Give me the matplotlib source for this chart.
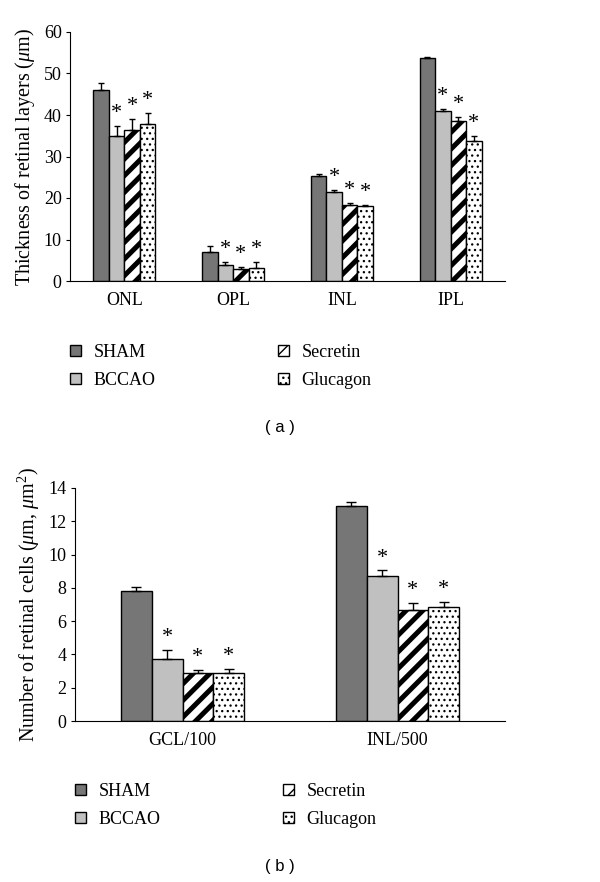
import matplotlib
matplotlib.use("Agg")
import matplotlib.pyplot as plt
import numpy as np

plt.rcParams['font.family'] = ['Liberation Serif', 'DejaVu Serif']
plt.rcParams['mathtext.fontset'] = 'custom'
plt.rcParams['mathtext.rm'] = 'Liberation Serif'
plt.rcParams['mathtext.it'] = 'Liberation Serif:italic'

# Data
groups = ['SHAM', 'BCCAO', 'Secretin', 'Glucagon']

# (a) thickness of retinal layers
layers = ['ONL', 'OPL', 'INL', 'IPL']
sham_a = [46.0, 7.1, 25.4, 53.7]
bccao_a = [35.0, 3.9, 21.4, 40.9]
secretin_a = [36.3, 2.8, 18.3, 38.5]
glucagon_a = [37.9, 3.1, 18.0, 33.8]
sham_a_err = [1.7, 1.3, 0.3, 0.25]
bccao_a_err = [2.3, 0.7, 0.6, 0.6]
secretin_a_err = [2.7, 0.65, 0.5, 1.0]
glucagon_a_err = [2.7, 1.5, 0.3, 1.1]

# (b) number of retinal cells
cells = ['GCL/100', 'INL/500']
sham_b = [7.84, 12.92]
bccao_b = [3.71, 8.70]
secretin_b = [2.87, 6.64]
glucagon_b = [2.87, 6.82]
sham_b_err = [0.2, 0.22]
bccao_b_err = [0.56, 0.35]
secretin_b_err = [0.2, 0.46]
glucagon_b_err = [0.28, 0.36]

# significance stars (vs SHAM)
stars = [False, True, True, True]

faces = ['#767676', '#c0c0c0', 'white', 'white']
hatches = [None, None, '//', '...']
hatch_lw = [1.0, 1.0, 3.6, 0.9]


def draw_panel(ax, cats, vals, errs, ylim, yticks, ylabel, capsize):
    x = np.arange(len(cats))
    w = 0.143
    bars = []
    for i in range(4):
        pos = x + (i - 1.5) * w
        with plt.rc_context({'hatch.linewidth': hatch_lw[i]}):
            b = ax.bar(pos, vals[i], w, color=faces[i], edgecolor='black',
                       linewidth=1, hatch=hatches[i],
                       yerr=[np.zeros(len(cats)), errs[i]],
                       error_kw=dict(ecolor='black', elinewidth=1,
                                     capsize=capsize, capthick=1))
        for patch in b:
            if hasattr(patch, 'set_hatch_linewidth'):
                patch.set_hatch_linewidth(hatch_lw[i])
        bars.append(b)
        if stars[i]:
            for p, v, e in zip(pos, vals[i], errs[i]):
                ax.annotate('*', xy=(p, v + e), xytext=(0, 2),
                            textcoords='offset points', ha='center',
                            va='bottom', fontsize=16)
    ax.set_xlim(-0.5, len(cats) - 0.5)
    ax.set_ylim(*ylim)
    ax.set_yticks(yticks)
    ax.set_xticks(x)
    ax.set_xticklabels(cats)
    ax.set_ylabel(ylabel, fontsize=14.5, labelpad=5)
    ax.spines['top'].set_visible(False)
    ax.spines['right'].set_visible(False)
    ax.tick_params(axis='x', length=0, pad=8, labelsize=13)
    ax.tick_params(axis='y', length=3, direction='out', labelsize=13, pad=3)
    return bars


fig = plt.figure(figsize=(6, 8.82), dpi=100)

ax1 = fig.add_axes([70 / 600, 1 - 281 / 882, 435 / 600, 249 / 882])
bars_a = draw_panel(ax1, layers,
                    [sham_a, bccao_a, secretin_a, glucagon_a],
                    [sham_a_err, bccao_a_err, secretin_a_err, glucagon_a_err],
                    (0, 60), range(0, 61, 10),
                    r'Thickness of retinal layers ($\mu$m)', 2.2)

ax2 = fig.add_axes([75 / 600, 1 - 721 / 882, 430 / 600, 233 / 882])
bars_b = draw_panel(ax2, cells,
                    [sham_b, bccao_b, secretin_b, glucagon_b],
                    [sham_b_err, bccao_b_err, secretin_b_err, glucagon_b_err],
                    (0, 14), range(0, 15, 2),
                    r'Number of retinal cells ($\mu$m, $\mu$m$^2$)', 3.5)

for bars, top, left in [(bars_a, 344, 70), (bars_b, 783, 75)]:
    fig.legend(bars, groups, loc='upper left', ncol=2,
               bbox_to_anchor=(left / 600, 1 - top / 882),
               frameon=False, borderpad=0, borderaxespad=0,
               fontsize=13, handlelength=0.6, handleheight=0.6,
               handletextpad=0.7, labelspacing=0.6, columnspacing=6.8)

fig.text(280 / 600, 1 - 427 / 882, '( a )', ha='center', va='center',
         family='Liberation Sans', fontsize=12)
fig.text(280 / 600, 1 - 866 / 882, '( b )', ha='center', va='center',
         family='Liberation Sans', fontsize=12)

fig.savefig('out.png', dpi=100)
